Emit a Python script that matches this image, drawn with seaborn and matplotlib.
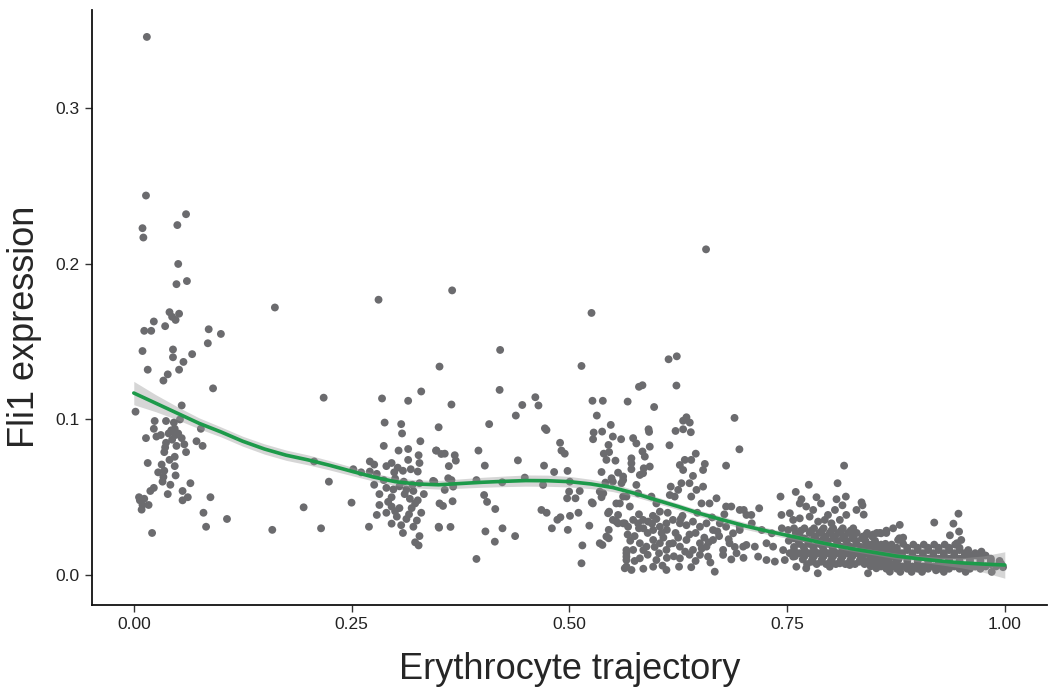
import numpy as np
import pandas as pd
import seaborn as sns
import matplotlib
matplotlib.use("Agg")
import matplotlib.pyplot as plt

# cells: (trajectory, Fli1 expression)
early_cells = [
    (0.015, 0.346), (0.014, 0.244), (0.060, 0.232), (0.050, 0.225), (0.010, 0.223), (0.011, 0.217),
    (0.051, 0.200), (0.061, 0.189), (0.049, 0.187), (0.041, 0.169), (0.052, 0.168), (0.048, 0.164),
    (0.044, 0.166), (0.023, 0.163), (0.036, 0.160), (0.012, 0.157), (0.020, 0.157), (0.086, 0.158),
    (0.100, 0.155), (0.085, 0.149), (0.010, 0.144), (0.045, 0.145), (0.045, 0.140), (0.067, 0.142),
    (0.057, 0.137), (0.016, 0.132), (0.052, 0.132), (0.039, 0.129), (0.034, 0.125), (0.091, 0.120),
    (0.055, 0.109), (0.002, 0.105), (0.024, 0.099), (0.037, 0.099), (0.046, 0.098), (0.053, 0.100),
    (0.023, 0.094), (0.047, 0.094), (0.077, 0.094), (0.014, 0.088), (0.026, 0.089), (0.031, 0.090),
    (0.040, 0.091), (0.046, 0.092), (0.051, 0.091), (0.055, 0.088), (0.072, 0.086), (0.079, 0.083),
    (0.037, 0.085), (0.036, 0.082), (0.049, 0.083), (0.058, 0.084), (0.035, 0.079), (0.047, 0.076),
    (0.041, 0.074), (0.060, 0.079), (0.016, 0.072), (0.032, 0.071), (0.047, 0.070), (0.035, 0.067),
    (0.028, 0.066), (0.048, 0.064), (0.034, 0.063), (0.033, 0.060), (0.042, 0.058), (0.065, 0.059),
    (0.023, 0.056), (0.019, 0.054), (0.056, 0.054), (0.039, 0.052), (0.062, 0.050), (0.056, 0.048),
    (0.088, 0.050), (0.006, 0.050), (0.012, 0.049), (0.007, 0.048), (0.017, 0.045), (0.010, 0.045),
    (0.009, 0.042), (0.080, 0.040), (0.107, 0.036), (0.083, 0.031), (0.021, 0.027), (0.043, 0.093),
    (0.048, 0.090), (0.044, 0.087),
]

plateau_cells = [
    (0.162, 0.172), (0.281, 0.177), (0.351, 0.134), (0.218, 0.114), (0.285, 0.1135), (0.315, 0.112),
    (0.330, 0.118), (0.288, 0.098), (0.307, 0.097), (0.308, 0.091), (0.329, 0.086), (0.287, 0.083),
    (0.304, 0.080), (0.315, 0.081), (0.327, 0.077), (0.347, 0.080), (0.350, 0.095), (0.315, 0.074),
    (0.328, 0.072), (0.207, 0.073), (0.271, 0.073), (0.276, 0.071), (0.296, 0.072), (0.252, 0.068),
    (0.261, 0.066), (0.271, 0.0665), (0.279, 0.065), (0.299, 0.066), (0.309, 0.067), (0.318, 0.068),
    (0.326, 0.0665), (0.224, 0.060), (0.276, 0.058), (0.290, 0.056), (0.298, 0.055), (0.305, 0.057),
    (0.313, 0.055), (0.321, 0.054), (0.328, 0.059), (0.345, 0.060), (0.282, 0.052), (0.296, 0.050),
    (0.317, 0.049), (0.326, 0.048), (0.195, 0.0435), (0.250, 0.0465), (0.282, 0.045), (0.296, 0.044),
    (0.305, 0.043), (0.319, 0.043), (0.330, 0.040), (0.279, 0.0386), (0.290, 0.040), (0.302, 0.0375),
    (0.313, 0.036), (0.325, 0.035), (0.296, 0.033), (0.307, 0.032), (0.321, 0.031), (0.159, 0.029),
    (0.215, 0.030), (0.270, 0.031), (0.309, 0.027), (0.328, 0.025), (0.323, 0.021), (0.327, 0.019),
    (0.350, 0.031), (0.351, 0.046), (0.300, 0.062), (0.310, 0.060), (0.320, 0.058), (0.292, 0.047),
    (0.311, 0.052), (0.323, 0.046), (0.300, 0.041), (0.316, 0.039), (0.287, 0.061), (0.333, 0.052),
    (0.303, 0.069), (0.290, 0.070),
]

middle_cells = [
    (0.3655, 0.183), (0.5255, 0.1685), (0.4206, 0.1447), (0.514, 0.1344), (0.420, 0.119),
    (0.3647, 0.1096), (0.461, 0.1143), (0.4646, 0.109), (0.446, 0.1093), (0.4386, 0.1025),
    (0.408, 0.097), (0.472, 0.0943), (0.4738, 0.0932), (0.5266, 0.112), (0.5385, 0.112),
    (0.567, 0.1115), (0.5316, 0.1025), (0.5476, 0.0965), (0.528, 0.0916), (0.5377, 0.0922),
    (0.5273, 0.0873), (0.550, 0.089), (0.5595, 0.0873), (0.545, 0.0836), (0.5396, 0.078),
    (0.5457, 0.079), (0.5426, 0.074), (0.553, 0.0735), (0.4894, 0.085), (0.491, 0.080),
    (0.4948, 0.078), (0.3475, 0.080), (0.353, 0.0778), (0.357, 0.078), (0.3685, 0.077),
    (0.3697, 0.0735), (0.3617, 0.070), (0.3957, 0.080), (0.403, 0.0703), (0.441, 0.0737),
    (0.471, 0.0703), (0.4826, 0.0662), (0.498, 0.0669), (0.537, 0.0662), (0.556, 0.0658),
    (0.5618, 0.0633), (0.3437, 0.0605), (0.361, 0.0622), (0.3647, 0.061), (0.3667, 0.0568),
    (0.3934, 0.061), (0.423, 0.0596), (0.4489, 0.0626), (0.4699, 0.0579), (0.5006, 0.060),
    (0.5415, 0.0594), (0.550, 0.060), (0.5599, 0.059), (0.357, 0.0547), (0.4022, 0.0514),
    (0.4056, 0.047), (0.512, 0.054), (0.4998, 0.0536), (0.4975, 0.0493), (0.5071, 0.0493),
    (0.535, 0.0536), (0.537, 0.050), (0.355, 0.0444), (0.366, 0.0474), (0.5258, 0.0467),
    (0.558, 0.046), (0.5656, 0.0504), (0.415, 0.0424), (0.468, 0.0418), (0.474, 0.040),
    (0.5105, 0.040), (0.5457, 0.0407), (0.556, 0.0386), (0.4863, 0.0355), (0.4898, 0.0371),
    (0.5008, 0.038), (0.554, 0.0343), (0.5637, 0.0332), (0.3505, 0.0304), (0.3636, 0.0309),
    (0.4037, 0.028), (0.4233, 0.030), (0.4378, 0.025), (0.4145, 0.0214), (0.480, 0.030),
    (0.4983, 0.029), (0.523, 0.0317), (0.5453, 0.029), (0.5453, 0.0236), (0.538, 0.0193),
    (0.515, 0.019), (0.3934, 0.0103), (0.514, 0.0075), (0.5656, 0.016), (0.5656, 0.0118),
    (0.5656, 0.0054),
]

late_cells = [
    (0.657, 0.2094), (0.614, 0.1387), (0.6234, 0.1406), (0.623, 0.1218), (0.580, 0.121), (0.584, 0.122),
    (0.5974, 0.108), (0.6897, 0.101), (0.6345, 0.1014), (0.6307, 0.0992), (0.6383, 0.098), (0.622, 0.0926),
    (0.6307, 0.0937), (0.6395, 0.0918), (0.591, 0.0937), (0.5916, 0.092), (0.5733, 0.088), (0.577, 0.0846),
    (0.6953, 0.0808), (0.615, 0.0834), (0.5924, 0.0825), (0.584, 0.0794), (0.5867, 0.0761), (0.5713, 0.075),
    (0.5713, 0.0718), (0.5713, 0.068), (0.5924, 0.0697), (0.5855, 0.0686), (0.5847, 0.0654), (0.6326, 0.074),
    (0.640, 0.074), (0.6452, 0.078), (0.6556, 0.0714), (0.6536, 0.0675), (0.680, 0.0703), (0.6269, 0.0707),
    (0.6307, 0.0675), (0.5485, 0.0622), (0.5618, 0.061), (0.581, 0.0643), (0.577, 0.0579), (0.579, 0.0525),
    (0.642, 0.0637), (0.638, 0.059), (0.6287, 0.059), (0.625, 0.0547), (0.6536, 0.0568), (0.646, 0.0547),
    (0.640, 0.0504), (0.6165, 0.0568), (0.6154, 0.0514), (0.621, 0.0504), (0.5943, 0.0504), (0.600, 0.046),
    (0.604, 0.0407), (0.669, 0.0493), (0.661, 0.046), (0.6518, 0.046), (0.680, 0.044), (0.686, 0.044),
    (0.6957, 0.0418), (0.7034, 0.0386), (0.5618, 0.0504), (0.5695, 0.044), (0.554, 0.046), (0.539, 0.0525),
    (0.527, 0.046), (0.5445, 0.0397), (0.550, 0.0354), (0.556, 0.0332), (0.5618, 0.0332), (0.5675, 0.031),
    (0.5733, 0.0354), (0.579, 0.0332), (0.5847, 0.0354), (0.5905, 0.0343), (0.5963, 0.0289), (0.604, 0.031),
    (0.6115, 0.0332), (0.619, 0.0354), (0.627, 0.0332), (0.6345, 0.032), (0.642, 0.0343), (0.650, 0.031),
    (0.6575, 0.0332), (0.665, 0.0289), (0.6728, 0.0332), (0.680, 0.031), (0.688, 0.0268), (0.6957, 0.0289),
    (0.535, 0.0204), (0.5426, 0.0247), (0.5656, 0.014), (0.5733, 0.0161), (0.581, 0.0204), (0.5886, 0.0182),
    (0.5963, 0.0225), (0.604, 0.0204), (0.6115, 0.0161), (0.619, 0.0204), (0.627, 0.0182), (0.6345, 0.0225),
    (0.642, 0.0161), (0.650, 0.0204), (0.6575, 0.0182), (0.665, 0.0225), (0.6766, 0.0161), (0.684, 0.0204),
    (0.692, 0.014), (0.6996, 0.0182), (0.5637, 0.0043), (0.5714, 0.0032), (0.5963, 0.0053), (0.6115, 0.0032),
    (0.626, 0.0053), (0.667, 0.0021), (0.5656, 0.0096), (0.581, 0.0107), (0.600, 0.0096), (0.627, 0.0107),
    (0.650, 0.0129), (0.6593, 0.0118), (0.6766, 0.0129), (0.575, 0.025), (0.590, 0.027), (0.608, 0.024),
    (0.622, 0.027), (0.638, 0.026), (0.655, 0.024), (0.672, 0.025), (0.590, 0.013), (0.612, 0.011),
    (0.638, 0.013), (0.662, 0.008), (0.686, 0.010), (0.700, 0.011), (0.580, 0.039), (0.596, 0.038),
    (0.613, 0.040), (0.630, 0.038), (0.647, 0.040), (0.664, 0.037), (0.678, 0.039),
    (0.570, 0.022), (0.585, 0.030), (0.598, 0.018), (0.606, 0.027), (0.615, 0.020), (0.625, 0.024),
    (0.633, 0.015), (0.645, 0.027), (0.652, 0.017), (0.660, 0.021), (0.670, 0.028), (0.683, 0.023),
    (0.690, 0.018), (0.575, 0.009), (0.585, 0.016), (0.603, 0.014), (0.620, 0.012), (0.645, 0.009),
    (0.580, 0.030), (0.595, 0.033), (0.612, 0.029), (0.628, 0.036), (0.600, 0.036), (0.567, 0.026),
    (0.607, 0.006), (0.585, 0.004), (0.640, 0.005),
]

terminal_cells = [
    (0.8155, 0.0703), (0.775, 0.058), (0.808, 0.059), (0.760, 0.0534), (0.7425, 0.0504), (0.7665, 0.0487),
    (0.7838, 0.050), (0.8068, 0.0487), (0.8175, 0.0504), (0.8136, 0.0448), (0.8355, 0.0467), (0.8366, 0.0448),
    (0.8297, 0.0418), (0.838, 0.0388), (0.718, 0.0429), (0.7003, 0.0418), (0.709, 0.0386), (0.7646, 0.046),
    (0.772, 0.044), (0.780, 0.0418), (0.789, 0.046), (0.797, 0.0386), (0.805, 0.0418), (0.7436, 0.0386),
    (0.7532, 0.0397), (0.757, 0.0354), (0.7646, 0.0364), (0.776, 0.0375), (0.7857, 0.0343), (0.7933, 0.0354),
    (0.801, 0.0332), (0.8106, 0.0354), (0.818, 0.0386), (0.6957, 0.031), (0.7095, 0.0332), (0.721, 0.0289),
    (0.7325, 0.0268), (0.744, 0.030), (0.7512, 0.0289),
    (0.760, 0.027), (0.776, 0.027), (0.787, 0.027), (0.799, 0.027), (0.809, 0.027), (0.820, 0.027),
    (0.830, 0.027), (0.842, 0.027), (0.853, 0.027), (0.864, 0.027),
    (0.765, 0.0247), (0.782, 0.0247), (0.794, 0.0247), (0.805, 0.0247), (0.816, 0.0247), (0.826, 0.0247),
    (0.837, 0.0247), (0.848, 0.0247),
    (0.7033, 0.0193), (0.713, 0.0182), (0.7264, 0.0204), (0.734, 0.0182), (0.7455, 0.016),
    (0.7168, 0.0118), (0.7264, 0.0096), (0.736, 0.0086), (0.7474, 0.0096), (0.757, 0.0118),
    (0.7607, 0.0053), (0.772, 0.0043), (0.7853, 0.0011), (0.799, 0.0053), (0.8106, 0.0075), (0.822, 0.0064),
    (0.843, 0.0011), (0.8525, 0.0043), (0.868, 0.0021),
    (0.758, 0.030), (0.770, 0.030), (0.781, 0.030), (0.792, 0.030), (0.803, 0.030), (0.814, 0.030),
    (0.826, 0.030),
    (0.752, 0.022), (0.763, 0.022), (0.774, 0.022), (0.785, 0.022), (0.796, 0.022), (0.807, 0.022),
    (0.818, 0.022), (0.829, 0.022), (0.840, 0.022), (0.851, 0.022),
    (0.758, 0.018), (0.769, 0.018), (0.780, 0.018), (0.791, 0.018), (0.802, 0.018), (0.813, 0.018),
    (0.824, 0.018), (0.835, 0.018), (0.846, 0.018), (0.857, 0.018), (0.868, 0.018),
    (0.753, 0.014), (0.764, 0.014), (0.775, 0.014), (0.786, 0.014), (0.797, 0.014), (0.808, 0.014),
    (0.819, 0.014), (0.830, 0.014), (0.841, 0.014), (0.852, 0.014), (0.863, 0.014), (0.874, 0.014),
    (0.768, 0.010), (0.779, 0.010), (0.790, 0.010), (0.801, 0.010), (0.812, 0.010), (0.823, 0.010),
    (0.834, 0.010), (0.845, 0.010), (0.856, 0.010), (0.867, 0.010), (0.878, 0.010),
    (0.773, 0.007), (0.784, 0.007), (0.795, 0.007), (0.806, 0.007), (0.817, 0.007), (0.828, 0.007),
    (0.839, 0.007), (0.850, 0.007), (0.861, 0.007), (0.872, 0.007),
    (0.766, 0.0285), (0.778, 0.0285), (0.790, 0.0285), (0.801, 0.0285), (0.812, 0.0285), (0.823, 0.0285),
    (0.758, 0.0235), (0.770, 0.0235), (0.781, 0.0235), (0.792, 0.0235), (0.803, 0.0235), (0.814, 0.0235),
    (0.825, 0.0235), (0.836, 0.0235),
    (0.764, 0.020), (0.775, 0.020), (0.786, 0.020), (0.797, 0.020), (0.808, 0.020), (0.819, 0.020),
    (0.830, 0.020), (0.841, 0.020), (0.852, 0.020), (0.863, 0.020),
    (0.758, 0.016), (0.770, 0.016), (0.781, 0.016), (0.792, 0.016), (0.803, 0.016), (0.814, 0.016),
    (0.825, 0.016), (0.836, 0.016), (0.847, 0.016), (0.858, 0.016), (0.869, 0.016),
    (0.759, 0.012), (0.770, 0.012), (0.781, 0.012), (0.792, 0.012), (0.803, 0.012), (0.814, 0.012),
    (0.825, 0.012), (0.836, 0.012), (0.847, 0.012), (0.858, 0.012), (0.869, 0.012),
    (0.778, 0.0085), (0.789, 0.0085), (0.800, 0.0085), (0.811, 0.0085), (0.822, 0.0085), (0.833, 0.0085),
    (0.844, 0.0085), (0.855, 0.0085), (0.866, 0.0085),
    (0.9468, 0.0394), (0.919, 0.0337), (0.941, 0.033), (0.9475, 0.0279), (0.937, 0.0255), (0.950, 0.0225),
    (0.945, 0.0204), (0.8794, 0.0322), (0.8718, 0.030), (0.864, 0.0285), (0.858, 0.0268), (0.8775, 0.0225),
    (0.8833, 0.024), (0.8833, 0.020), (0.9732, 0.015), (0.971, 0.0118), (0.998, 0.005), (0.8565, 0.027),
    (0.849, 0.026), (0.8412, 0.026), (0.879, 0.0236), (0.960, 0.0129),
    (0.846, 0.0195), (0.858, 0.0195), (0.870, 0.0195), (0.895, 0.0195), (0.907, 0.0195), (0.919, 0.0195),
    (0.931, 0.0195), (0.943, 0.0195),
    (0.840, 0.016), (0.852, 0.016), (0.864, 0.016), (0.876, 0.016), (0.888, 0.016), (0.900, 0.016),
    (0.912, 0.016), (0.924, 0.016), (0.936, 0.016), (0.948, 0.016), (0.958, 0.016),
    (0.846, 0.0125), (0.858, 0.0125), (0.870, 0.0125), (0.882, 0.0125), (0.894, 0.0125), (0.906, 0.0125),
    (0.918, 0.0125), (0.930, 0.0125), (0.942, 0.0125), (0.954, 0.0125), (0.966, 0.0125), (0.978, 0.0125),
    (0.840, 0.009), (0.852, 0.009), (0.864, 0.009), (0.876, 0.009), (0.888, 0.009), (0.900, 0.009),
    (0.912, 0.009), (0.924, 0.009), (0.936, 0.009), (0.948, 0.009), (0.960, 0.009), (0.972, 0.009),
    (0.984, 0.009), (0.994, 0.009),
    (0.846, 0.0055), (0.858, 0.0055), (0.870, 0.0055), (0.882, 0.0055), (0.894, 0.0055), (0.906, 0.0055),
    (0.918, 0.0055), (0.930, 0.0055), (0.942, 0.0055), (0.954, 0.0055), (0.966, 0.0055), (0.978, 0.0055),
    (0.990, 0.0055),
    (0.880, 0.002), (0.893, 0.002), (0.905, 0.002), (0.921, 0.003), (0.930, 0.002), (0.955, 0.002),
    (0.985, 0.002),
    (0.852, 0.0175), (0.864, 0.0175), (0.876, 0.0175), (0.888, 0.0175), (0.900, 0.0175), (0.912, 0.0175),
    (0.924, 0.0175), (0.936, 0.0175), (0.948, 0.0175),
    (0.846, 0.014), (0.858, 0.014), (0.870, 0.014), (0.882, 0.014), (0.894, 0.014), (0.906, 0.014),
    (0.918, 0.014), (0.930, 0.014), (0.942, 0.014), (0.954, 0.014), (0.966, 0.014),
    (0.852, 0.0105), (0.864, 0.0105), (0.876, 0.0105), (0.888, 0.0105), (0.900, 0.0105), (0.912, 0.0105),
    (0.924, 0.0105), (0.936, 0.0105), (0.948, 0.0105), (0.960, 0.0105), (0.972, 0.0105), (0.984, 0.0105),
    (0.852, 0.007), (0.864, 0.007), (0.876, 0.007), (0.888, 0.007), (0.900, 0.007), (0.912, 0.007),
    (0.924, 0.007), (0.936, 0.007), (0.948, 0.007), (0.960, 0.007), (0.972, 0.007), (0.984, 0.007),
    (0.996, 0.007),
    (0.864, 0.004), (0.876, 0.004), (0.888, 0.004), (0.900, 0.004), (0.912, 0.004), (0.924, 0.004),
    (0.936, 0.004), (0.948, 0.004), (0.960, 0.004), (0.972, 0.004),
]

# smoothed trend and its confidence half-width, read at steps of 0.025
trend_x = [0.000, 0.025, 0.050, 0.075, 0.100, 0.125, 0.150, 0.175, 0.200, 0.225, 0.250,
           0.275, 0.300, 0.325, 0.350, 0.375, 0.400, 0.425, 0.450, 0.475, 0.500,
           0.525, 0.550, 0.575, 0.600, 0.625, 0.650, 0.675, 0.700, 0.725, 0.750,
           0.775, 0.800, 0.825, 0.850, 0.875, 0.900, 0.925, 0.950, 0.975, 1.000]
trend_y = [0.1170, 0.1105, 0.1040, 0.0975, 0.0920, 0.0860, 0.0810, 0.0770, 0.0740, 0.0705, 0.0667,
           0.0630, 0.0600, 0.0585, 0.0580, 0.0588, 0.0596, 0.0602, 0.0607, 0.0606, 0.0600,
           0.0585, 0.0562, 0.0525, 0.0482, 0.0440, 0.0395, 0.0356, 0.0318, 0.0285, 0.0255,
           0.0225, 0.0195, 0.0168, 0.0145, 0.0122, 0.0105, 0.0090, 0.0078, 0.0070, 0.0064]
trend_se = [0.0075, 0.0055, 0.0042, 0.0035, 0.0032, 0.0032, 0.0033, 0.0033, 0.0032, 0.0030, 0.0028,
            0.0026, 0.0025, 0.0026, 0.0028, 0.0030, 0.0032, 0.0034, 0.0036, 0.0036, 0.0034,
            0.0030, 0.0026, 0.0022, 0.0020, 0.0020, 0.0020, 0.0021, 0.0022, 0.0021, 0.0019,
            0.0017, 0.0016, 0.0016, 0.0017, 0.0018, 0.0020, 0.0024, 0.0032, 0.0052, 0.0085]

cells = pd.DataFrame(early_cells + plateau_cells + middle_cells + late_cells + terminal_cells,
                     columns=["trajectory", "fli1"])
trend = pd.DataFrame({"trajectory": trend_x, "fli1": trend_y, "se": trend_se})

sns.set_style("white")
plt.rcParams["font.family"] = ["Liberation Sans", "DejaVu Sans"]

fig = plt.figure(figsize=(10.5, 6.91), dpi=100)
ax = fig.add_axes([0.0876, 0.1245, 0.910, 0.861])

sns.scatterplot(data=cells, x="trajectory", y="fli1", ax=ax, color="#6b6b6e",
                s=32, edgecolor="none", linewidth=0, zorder=2)
ax.fill_between(trend.trajectory, trend.fli1 - trend.se, trend.fli1 + trend.se,
                color="#999999", alpha=0.4, linewidth=0, zorder=3)
sns.lineplot(data=trend, x="trajectory", y="fli1", ax=ax, color="#1d9a4a",
             linewidth=2.6, zorder=4)

ax.set_xlim(-0.048, 1.049)
ax.set_ylim(-0.0193, 0.3633)
ax.set_xticks([0, 0.25, 0.5, 0.75, 1.0])
ax.set_xticklabels(["0.00", "0.25", "0.50", "0.75", "1.00"])
ax.set_yticks([0, 0.1, 0.2, 0.3])
ax.set_yticklabels(["0.0", "0.1", "0.2", "0.3"])
ax.tick_params(direction="out", length=5, width=1, color="#333333",
               labelsize=12.5, labelcolor="#222222", pad=4)
ax.tick_params(axis="x", bottom=True)
ax.tick_params(axis="y", left=True)

for side in ["top", "right"]:
    ax.spines[side].set_visible(False)
for side in ["left", "bottom"]:
    ax.spines[side].set_color("#111111")
    ax.spines[side].set_linewidth(1.3)

ax.set_xlabel("Erythrocyte trajectory", fontsize=26, labelpad=14)
ax.set_ylabel("Fli1 expression", fontsize=26)
ax.yaxis.set_label_coords(-0.052, 0.467)

fig.savefig("out.png", dpi=100)
